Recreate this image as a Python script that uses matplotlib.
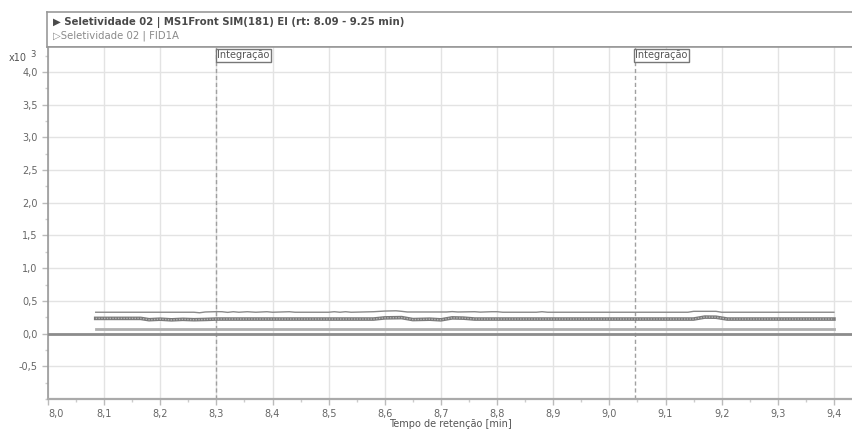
import matplotlib
matplotlib.use('Agg')
import matplotlib.pyplot as plt
from matplotlib.ticker import MultipleLocator, FuncFormatter

# Data (intensity in x10^3)
# top trace (MS1Front SIM)
ms_rt = [8.085, 8.26, 8.27, 8.28, 8.30, 8.31, 8.32, 8.33, 8.34, 8.355, 8.37, 8.39,
         8.40, 8.43, 8.44, 8.50, 8.51, 8.52, 8.53, 8.54, 8.58, 8.60, 8.62, 8.63,
         8.64, 8.71, 8.72, 8.73, 8.76, 8.77, 8.79, 8.80, 8.81, 8.87, 8.88, 8.89,
         9.14, 9.15, 9.19, 9.20, 9.40]
ms_int = [0.326, 0.326, 0.318, 0.330, 0.335, 0.334, 0.324, 0.334, 0.326, 0.334, 0.326, 0.334,
          0.326, 0.334, 0.326, 0.326, 0.334, 0.326, 0.334, 0.326, 0.334, 0.344, 0.348, 0.340,
          0.330, 0.330, 0.336, 0.330, 0.334, 0.328, 0.334, 0.334, 0.326, 0.326, 0.334, 0.326,
          0.326, 0.340, 0.340, 0.326, 0.326]

# thick middle trace
mid_rt = [8.085, 8.165, 8.18, 8.20, 8.22, 8.24, 8.26, 8.28, 8.30, 8.58, 8.60, 8.63,
          8.65, 8.68, 8.70, 8.72, 8.74, 8.76, 9.15, 9.17, 9.19, 9.21, 9.40]
mid_int = [0.232, 0.232, 0.212, 0.220, 0.210, 0.218, 0.212, 0.216, 0.222, 0.222, 0.240, 0.244,
           0.214, 0.220, 0.210, 0.240, 0.236, 0.222, 0.222, 0.252, 0.250, 0.222, 0.222]

# lower trace
low_rt = [8.085, 9.40]
low_int = [0.074, 0.074]

# FID baseline
fid_rt = [8.0, 9.44]
fid_int = [0.0, 0.0]

integ_rt = [8.30, 9.045]

x_ticks = [8.0, 8.1, 8.2, 8.3, 8.4, 8.5, 8.6, 8.7, 8.8, 8.9, 9.0, 9.1, 9.2, 9.3, 9.4]
y_ticks = [-0.5, 0.0, 0.5, 1.0, 1.5, 2.0, 2.5, 3.0, 3.5, 4.0]

W, H = 853, 432
fig = plt.figure(figsize=(W / 100, H / 100), dpi=100)
plt.rcParams['font.family'] = 'DejaVu Sans'

# header box
hdr = fig.add_axes([47 / W, (H - 47) / H, (W - 47) / W, 35 / H])
hdr.set_xticks([])
hdr.set_yticks([])
for s in ['top', 'left', 'bottom']:
    hdr.spines[s].set_color('#999999')
    hdr.spines[s].set_linewidth(1.2)
hdr.spines['right'].set_visible(False)
hdr.text(0.007, 0.70, '\u25b6 Seletividade 02 | MS1Front SIM(181) EI (rt: 8.09 - 9.25 min)',
         transform=hdr.transAxes, fontsize=7.3, fontweight='bold', color='#4a4a4a', va='center')
hdr.text(0.007, 0.33, '\u25b7Seletividade 02 | FID1A', transform=hdr.transAxes,
         fontsize=7.3, color='#8a8a8a', va='center')

# main axes
ax = fig.add_axes([48 / W, (H - 399) / H, (W - 48) / W, (399 - 47) / H])
ax.set_xlim(8.0, 9.434)
ax.set_ylim(-1.0, 4.38)

ax.grid(True, color='#e3e3e3', linewidth=1)
ax.set_axisbelow(True)

ax.plot(fid_rt, fid_int, color='#8c8c8c', linewidth=2.0, zorder=3)
ax.plot(low_rt, low_int, color='#b0b0b0', linewidth=2.0, zorder=3)
ax.plot(mid_rt, mid_int, color='#7a7a7a', linewidth=2.6, zorder=3)
ax.plot(mid_rt, mid_int, color='#b5b5b5', linewidth=1.0, linestyle=(0, (1, 1)), zorder=4)
ax.plot(ms_rt, ms_int, color='#8a8a8a', linewidth=1.0, zorder=3)

for rt in integ_rt:
    ax.axvline(rt, color='#a0a0a0', linewidth=1, linestyle=(0, (3, 2)), zorder=2)
    ax.text(rt + 0.001, 4.33, 'Integração', fontsize=7, color='#555555', va='top', ha='left',
            bbox=dict(boxstyle='square,pad=0.15', fc='white', ec='#777777', lw=1))

ax.set_xticks(x_ticks)
ax.set_yticks(y_ticks)
ax.xaxis.set_minor_locator(MultipleLocator(0.05))
ax.yaxis.set_minor_locator(MultipleLocator(0.25))
fmt = FuncFormatter(lambda v, p: f'{v:.1f}'.replace('.', ',') if v != 0 else '0,0')
ax.xaxis.set_major_formatter(fmt)
ax.yaxis.set_major_formatter(fmt)
ax.tick_params(axis='both', which='major', labelsize=7, colors='#bbbbbb', labelcolor='#666666',
               length=4, width=1)
ax.tick_params(axis='both', which='minor', colors='#cccccc', length=2, width=1)
ax.get_xticklabels()[0].set_horizontalalignment('left')

ax.spines['right'].set_visible(False)
ax.spines['top'].set_color('#999999')
ax.spines['top'].set_linewidth(1.2)
ax.spines['left'].set_color('#999999')
ax.spines['left'].set_linewidth(1.2)
ax.spines['bottom'].set_color('#aaaaaa')
ax.spines['bottom'].set_linewidth(1.6)

ax.set_xlabel('Tempo de retenção [min]', fontsize=7, color='#555555', labelpad=0)

fig.text(9 / W, (H - 61) / H, 'x10', fontsize=7, color='#555555')
fig.text(30 / W, (H - 57) / H, '3', fontsize=6, color='#555555')

fig.savefig('out.png', dpi=100)
